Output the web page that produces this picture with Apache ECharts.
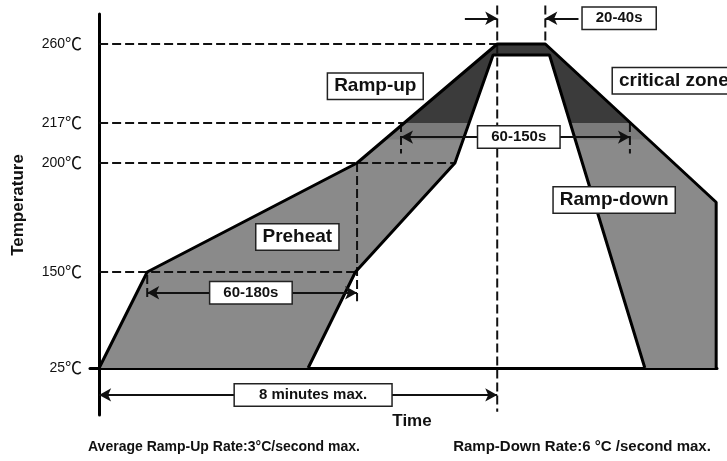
<!DOCTYPE html>
<html>
<head>
<meta charset="utf-8">
<title>Reflow profile</title>
<script src="https://cdn.jsdelivr.net/npm/echarts@6.0.0/dist/echarts.min.js"></script>
<style>
    html, body { margin: 0; padding: 0; background: #fff; }
    #reflow { width: 727px; height: 461px; }
</style>
</head>
<body>
<div id="reflow"></div>
<script>
// temperature levels shown on the axis (°C)
var tempTicks = [25, 150, 200, 217, 260];
// outer (upper) limit of the profile: time s / temp °C
var outerTimes = [0, 58, 311, 480, 538, 744, 744];
var outerTemps = [25, 150, 200, 260, 260, 182, 25];
// inner (lower) limit of the profile
var innerTimes = [252, 309, 429, 475, 543, 658];
var innerTemps = [25, 150, 200, 254, 254, 25];
// critical zone starts at the liquidus, band just below it
var liquidus = 217;
var bandLow = 210;

var fontFamily = '"Liberation Sans", Arial, "Noto Sans CJK SC", sans-serif';

// the temperature axis of the original is not linear: piecewise scale
var tempScale = [0, 96, 205, 245, 324];
function warp(t) {
    var n = tempTicks.length;
    var i = 0;
    if (t >= tempTicks[n - 1]) {
        i = n - 2;
    } else if (t > tempTicks[0]) {
        while (t > tempTicks[i + 1]) i++;
    }
    var k = (tempScale[i + 1] - tempScale[i]) / (tempTicks[i + 1] - tempTicks[i]);
    return tempScale[i] + (t - tempTicks[i]) * k;
}
function toPts(times, temps) {
    return times.map(function (x, i) { return [x, warp(temps[i])]; });
}
// keep part of polygon above (dir=1) or below (dir=-1) level h
function clip(pts, h, dir) {
    var out = [];
    for (var i = 0; i < pts.length; i++) {
        var a = pts[i], b = pts[(i + 1) % pts.length];
        var ain = (a[1] - h) * dir >= 0, bin = (b[1] - h) * dir >= 0;
        if (ain) out.push(a);
        if (ain !== bin) {
            var k = (h - a[1]) / (b[1] - a[1]);
            out.push([a[0] + k * (b[0] - a[0]), h]);
        }
    }
    return out;
}

var outer = toPts(outerTimes, outerTemps);
var inner = toPts(innerTimes, innerTemps);
var ring = outer.concat(inner.slice().reverse());
var crit = clip(ring, warp(liquidus), 1);
var band = clip(clip(ring, warp(bandLow), 1), warp(liquidus), -1);
var fills = [
    {points: ring, color: '#8a8a8a'},
    {points: band, color: '#7b7b7b'},
    {points: crit, color: '#3b3b3b'}
];

// dashed guide lines [t1, temp1, t2, temp2]
var guides = [
    [0, 260, 480, 260],
    [0, 217, 368, 217],
    [0, 200, 429, 200],
    [0, 150, 311, 150],
    [311, 200, 311, 112],
    [480, 281, 480, -32],
    [538, 281, 538, 260],
    [364, 217, 364, 204],
    [640, 217, 640, 204],
    [58, 146, 58, 114]
];
// arrows [from t, to t, temp, arrow at both ends]
var arrows = [
    [58, 311, 123, true],
    [364, 640, 211, true],
    [0, 480, -10, true],
    [441, 480, 274, false],
    [578, 538, 274, false]
];
// boxed notes [text, t, temp]
var notes = [
    ['Ramp-up', 333, 237],
    ['critical zone', 693, 240],
    ['Preheat', 239, 166],
    ['Ramp-down', 621, 183],
    ['60-180s', 183, 123],
    ['60-150s', 506, 211],
    ['8 minutes max.', 258, -10],
    ['20-40s', 627, 274]
];
var bigNotes = ['Ramp-up', 'critical zone', 'Preheat', 'Ramp-down'];

var eChart_reflow = echarts.init(document.getElementById('reflow'));

var series = [];
// gray areas
series.push({
    type: 'custom',
    silent: true,
    z: 1,
    data: fills.map(function (f, i) { return [i, 0]; }),
    renderItem: function (params, api) {
        var f = fills[params.dataIndex];
        return {
            type: 'polygon',
            shape: {points: f.points.map(function (p) { return api.coord(p); })},
            style: {fill: f.color}
        };
    }
});
guides.forEach(function (g) {
    series.push({
        type: 'line',
        data: [[g[0], warp(g[1])], [g[2], warp(g[3])]],
        symbol: 'none',
        clip: false,
        silent: true,
        z: 2,
        lineStyle: {color: '#111', width: 2, type: [9, 4]}
    });
});
series.push({
    type: 'line',
    data: inner,
    symbol: 'none',
    silent: true,
    z: 3,
    lineStyle: {color: '#000', width: 3}
});
series.push({
    type: 'line',
    data: outer,
    symbol: 'none',
    silent: true,
    z: 3,
    lineStyle: {color: '#000', width: 3},
    markLine: {
        silent: true,
        symbolSize: [10, 12],
        lineStyle: {color: '#111', width: 2, type: 'solid'},
        label: {show: false},
        data: arrows.map(function (a) {
            return [
                {coord: [a[0], warp(a[2])], symbol: a[3] ? 'arrow' : 'none'},
                {coord: [a[1], warp(a[2])], symbol: 'arrow'}
            ];
        })
    }
});
series.push({
    type: 'scatter',
    clip: false,
    silent: true,
    symbolSize: 0,
    z: 6,
    itemStyle: {opacity: 1},
    data: notes.map(function (n) {
        var big = bigNotes.indexOf(n[0]) >= 0;
        return {
            name: n[0],
            value: [n[1], warp(n[2])],
            label: big ? {fontSize: 19, padding: [3, 6]} :
                {fontSize: 15, padding: n[0] === '8 minutes max.' ? [3, 24] : [3, 13]}
        };
    }),
    label: {
        show: true,
        position: 'inside',
        formatter: '{b}',
        opacity: 1,
        color: '#111',
        fontWeight: 'bold',
        fontFamily: fontFamily,
        backgroundColor: '#fff',
        borderColor: '#222',
        borderWidth: 1.5
    }
});

var warpedTicks = tempTicks.map(warp);
var option_reflow = {
    animation: false,
    backgroundColor: '#fff',
    grid: {left: 90, right: 10, top: 14, bottom: 46},
    xAxis: {
        type: 'value',
        min: -11,
        max: 745,
        axisLine: {onZero: true, lineStyle: {color: '#000', width: 3}},
        axisTick: {show: false},
        axisLabel: {show: false},
        splitLine: {show: false}
    },
    yAxis: {
        type: 'value',
        min: -47,
        max: 354,
        axisLine: {onZero: true, lineStyle: {color: '#000', width: 3}},
        axisTick: {show: false},
        splitLine: {show: false},
        axisLabel: {
            customValues: warpedTicks,
            margin: 8,
            color: '#111',
            fontSize: 15,
            fontFamily: fontFamily,
            formatter: function (v) {
                var i = warpedTicks.indexOf(v);
                return i >= 0 ? '{n|' + tempTicks[i] + '}{c|℃}' : '';
            },
            rich: {
                n: {fontSize: 14, color: '#111', fontFamily: fontFamily},
                c: {fontSize: 17, color: '#111', fontFamily: '"Noto Sans CJK SC", sans-serif'}
            }
        }
    },
    graphic: [
        {type: 'text', x: 18, y: 205, rotation: Math.PI / 2,
            style: {text: 'Temperature', font: 'bold 17px ' + fontFamily, fill: '#111', textAlign: 'center', textVerticalAlign: 'middle'}},
        {type: 'text', x: 412, y: 421,
            style: {text: 'Time', font: 'bold 17px ' + fontFamily, fill: '#111', textAlign: 'center', textVerticalAlign: 'middle'}},
        {type: 'text', x: 224, y: 447,
            style: {text: 'Average Ramp-Up Rate:3°C/second max.', font: 'bold 14px ' + fontFamily, fill: '#111', textAlign: 'center', textVerticalAlign: 'middle'}},
        {type: 'text', x: 582, y: 447,
            style: {text: 'Ramp-Down Rate:6 °C /second max.', font: 'bold 15px ' + fontFamily, fill: '#111', textAlign: 'center', textVerticalAlign: 'middle'}}
    ],
    series: series
};
eChart_reflow.setOption(option_reflow);
</script>
</body>
</html>
